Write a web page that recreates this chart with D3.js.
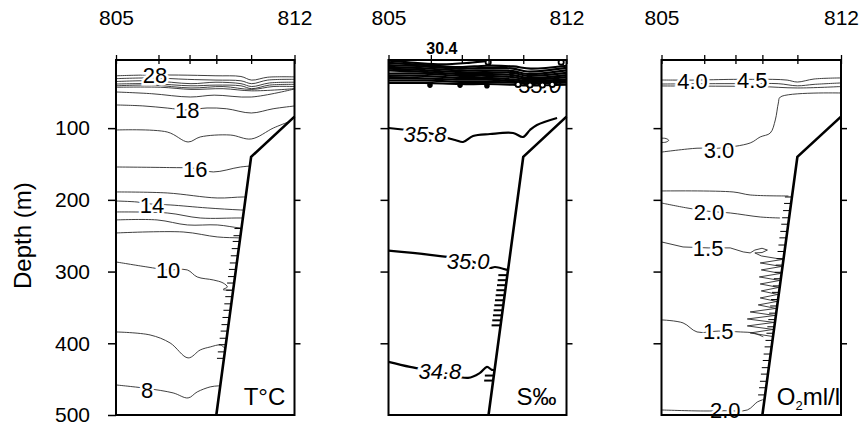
<!DOCTYPE html>
<html><head><meta charset="utf-8">
<script src="https://cdn.jsdelivr.net/npm/d3@7"></script>
<style>
body{margin:0;background:#fff}
svg{font-family:"Liberation Sans",Arial,Helvetica,sans-serif}
</style></head><body>
<svg id="c" width="865" height="432"></svg>
<script>
// ---------- DATA (distance along section 0-100, depth m) ----------
const stationDist = [0, 23.8, 41.2, 56.2, 75.7, 100];
const stationEndDist = [0, 100];
const stationEndLabels = ["805", "812"];
const depthTicks = [100, 200, 300, 400, 500];
const bathymetry = [[56.2, 500], [75.7, 140], [100, 84]];
const unitLabels = ["T°C", "S‰", "O2ml/l"];

// Temperature contours
const tempLines = [
  [[0,27],[16,26],[35,26],[56,27],[70,28],[76,33],[85,29],[100,28.5]],
  [[0,31],[20,30],[40,32],[56,33],[70,34],[76,38],[85,33],[100,32]],
  [[0,35],[20,34],[42,38],[56,36],[70,38],[76,42],[86,37],[100,36]],
  [[0,38.5],[20,38],[42,41],[56,40],[70,41],[76,45],[86,40],[100,39]],
  [[0,41],[20,40],[42,44],[60,42],[76,46],[88,42],[100,42]],
  [[0,43],[25,43],[42,46],[60,45],[76,48],[100,45]],
  [[0,49.6],[20,52],[41.6,56.6],[55,54],[75.8,56.6],[100,45.4]],
  [[0,67.7],[15,69],[28.7,72],[39.9,74.7],[51,71.9],[62,73],[75.8,78.9],[88,73],[100,69.1]],
  [[0,102.6],[28.7,105.4],[40.4,119.3],[47.2,112.3],[64,109.6],[75.8,115.1],[88.2,99.8],[96,92]],
  [[0,154.2],[30,155],[44,156],[54.5,161.1],[69.7,154.2],[80,152]],
  [[0,189],[28.7,190.4],[56.7,197.4],[71.3,196],[80,197]],
  [[0,201.6],[11.8,203],[20.2,206],[30.3,207.1],[51.1,211.3],[69.7,214.1],[80,215]],
  [[0,216.9],[28.7,218.3],[47.2,225.3],[69.7,225.3],[80,226]],
  [[0,228],[23,228],[40,235],[56.7,235],[69.7,239.2],[80,240]],
  [[0,246.2],[37.6,244.8],[56.7,251.7],[69.7,253.1],[80,254]],
  [[0,286.6],[17.4,293.6],[29,297.7],[39.9,297.7],[45.5,307.5],[54.5,311.7],[60,315.9],[62.4,321.5],[60,325],[64,326],[70,326]],
  [[0,384.2],[19.1,388.4],[30.3,399.5],[40.4,420.4],[47.2,409.3],[52.8,405.1],[58.4,402.3],[61,406],[66,404]],
  [[0,458.1],[17.4,463],[32,469.2],[40.4,476.2],[45.5,467.8],[52.8,460.8],[57.3,459.4],[62,459]]
];
const tempLabelText = ["28","18","16","14","10","8"];
const tempLabelPos = [[21.9,26],[39.9,74.7],[44.4,157],[20.2,207],[29.2,297.7],[17.4,465]];
const tempHatch = [240,250,258,268,278,288,297,307,316,326,335,345,354,364,374,383,393,402,412,421];

// Salinity contours
const salLines = [
  [[0,6],[15,9],[30,11],[45,9],[57,6]],
  [[0,9],[20,12],[40,15],[55,13],[70,14],[80,17],[100,13]],
  [[0,12],[20,14],[40,17],[55,16],[70,17],[78,21],[100,16]],
  [[0,14.5],[20,16.5],[40,19.5],[55,19.5],[70,20.5],[78,24.5],[100,19.5]],
  [[0,17],[20,19],[40,22],[55,22],[70,23],[78,27],[100,23]],
  [[0,19.5],[20,21.5],[40,24.5],[55,24.5],[70,26],[78,30],[100,26]],
  [[0,24],[20,24],[40,27],[55,27],[70,29],[78,32],[100,29]],
  [[0,27],[20,27],[40,30],[55,30],[70,32],[78,34],[100,32]],
  [[0,30],[20,30.5],[40,32.5],[55,32.5],[70,34.5],[78,35.5],[100,34.5]],
  [[0,33.5],[20,33.5],[40,35.5],[55,35.5],[70,36.5],[78,37.5],[100,36.5]],
  [[0,37],[20,37],[40,38.5],[55,38.5],[70,39.5],[78,40.5],[100,39.5]],
  [[0,99.8],[20.5,106],[37.4,116.5],[41.9,119.3],[47.5,110.9],[57,108.2],[70,106.8],[75.6,112.3],[79.5,102.6],[83.4,95.6],[94.7,85.9]],
  [[0,270.9],[23.3,276.8],[44.7,284],[57,295],[59.8,293.6],[66.6,297.7]],
  [[0,426],[12.1,433],[28.9,440],[44.7,448.3],[51.4,441.3],[55.3,433],[58.1,437],[60,437]]
];
const salLabelText = ["35.8","35.0","34.8"];
const salLabelPos = [[20.5,108],[44.7,285],[28.9,438.5]];
const salTopLabel = {text:"30.4", pos:[30,-12]};
const salHiddenLabel = {text:"35.0", pos:[85,40]};
const salDrops = [[23.3,40],[40.2,40],[55.3,41]];
const salLoops = [[72.8,39],[79.5,40],[86.5,40],[92,39],[56,8],[97,8]];
const salHatch = [305,312,319,326,333,340,347,354,361,368,375,445,452];

// Oxygen contours
const oxyLines = [
  [[0,32.9],[17,33],[40,32],[50.6,32],[62,32],[70,33],[75.7,35.7],[85,31.5],[100,30]],
  [[0,38.5],[30,38],[50,38],[65,38],[75.7,41],[85,39],[100,37]],
  [[0,41.2],[30,41.5],[55,42],[75.7,44],[100,42]],
  [[100,51],[66.2,56.6],[65.1,65],[63.4,88.6],[60.6,106.8],[55,112.3],[49.4,120.7],[31.6,128],[19.8,128],[0.3,133.3]],
  [[0,114],[2.5,114.5],[4,117],[2.5,119.5],[0,120]],
  [[0,187.6],[39.9,189],[49.4,193.2],[70.7,194.6]],
  [[0,204.4],[14.2,211.3],[26.5,216],[38.3,218.3],[55,223.9],[66,225.3]],
  [[0,367.4],[12,371.6],[19.8,384.2],[31.6,383],[43.9,384.2],[51.1,385.6],[56.7,391]],
  [[0,493],[23.2,494.4],[35.5,494],[47.8,493],[53.4,481.8],[56.1,479],[57,478]]
];
const oxyZigzag = [[0,258.7],[12,265.7],[26,267],[38.3,267],[45.5,272.6],[49.4,274],[52,270],[56,267.5],[59,270],[56,273.5],[52,274],[55.6,278.2],
  [67.5,283.1],[55,288],[66.9,292.9],[55.6,297.7],[66.4,302.6],[54.5,307.5],[65.9,312.4],[55,317.3],[65.3,322.1],[55.6,327],
  [64.8,331.9],[55,336.8],[64.3,341.7],[53.9,346.5],[63.7,351.4],[49.4,356.3],[63.2,361.2],[47.8,366.1],[62.7,370.9],
  [47.8,375.8],[62.2,380.7],[49.4,385.6],[61.6,390.4]];
const oxyLabelText = ["4.0","4.5","3.0","2.0","1.5","1.5","2.0"];
const oxyLabelPos = [[17.3,35],[50.6,33],[32,130],[26.5,217.6],[26,267.8],[31.6,382.8],[35.5,493.6]];
const oxyHatch = [196,205,215,225,234,244,253,263,272,282,291,301,310,320,329,339,348,358,367,377,386,396,405,415,424,434,443,453,462,472];

// ---------- DRAW ----------
const svg = d3.select("#c");
const y = d3.scaleLinear().domain([5, 500]).range([60, 415]);
const layout = [[116, 294.5], [388.5, 566.5], [661.5, 841]];
const slopeD = d3.scaleLinear().domain([bathymetry[0][1], bathymetry[1][1]]).range([bathymetry[0][0], bathymetry[1][0]]);

const panels = [
  {lines: tempLines, zig: null, labels: tempLabelText, pos: tempLabelPos, hatch: tempHatch, width: 0.9, color: "#2a2a2a", italic: false, hatchW: 1, hatchLen: 7},
  {lines: salLines, zig: null, labels: salLabelText, pos: salLabelPos, hatch: salHatch, width: 2.2, color: "#000", italic: true, hatchW: 2, hatchLen: 9},
  {lines: oxyLines, zig: oxyZigzag, labels: oxyLabelText, pos: oxyLabelPos, hatch: oxyHatch, width: 0.9, color: "#2a2a2a", italic: false, hatchW: 1, hatchLen: 7}
];

panels.forEach((p, i) => {
  const x = d3.scaleLinear().domain([0, 100]).range(layout[i]);
  const g = svg.append("g");
  const line = d3.line().x(d => x(d[0])).y(d => y(d[1])).curve(d3.curveCatmullRom.alpha(0.5));
  const lineLin = d3.line().x(d => x(d[0])).y(d => y(d[1]));

  const water = [[0, 5], [100, 5], ...bathymetry.slice().reverse(), [0, 500]];
  g.append("clipPath").attr("id", "clip" + i).append("path").attr("d", lineLin(water) + "Z");

  const cg = g.append("g").attr("clip-path", `url(#clip${i})`);

  if (i === 1) {
    cg.append("text").attr("x", x(salHiddenLabel.pos[0])).attr("y", y(salHiddenLabel.pos[1]))
      .attr("dy", "0.35em").attr("text-anchor", "middle").attr("font-size", 22).attr("font-style", "italic")
      .text(salHiddenLabel.text);
  }

  cg.selectAll("path.c").data(p.lines).join("path").attr("class", "c")
    .attr("d", line).attr("fill", "none").attr("stroke", p.color).attr("stroke-width", p.width);
  if (p.zig) {
    cg.append("path").attr("d", lineLin(p.zig)).attr("fill", "none").attr("stroke", p.color).attr("stroke-width", p.width);
  }
  if (i === 1) {
    cg.selectAll("circle.dr").data(salDrops).join("circle").attr("class", "dr")
      .attr("cx", d => x(d[0])).attr("cy", d => y(d[1])).attr("r", 2.8).attr("fill", "#000");
    cg.selectAll("circle.lp").data(salLoops).join("circle").attr("class", "lp")
      .attr("cx", d => x(d[0])).attr("cy", d => y(d[1])).attr("r", 2.6)
      .attr("fill", "#fff").attr("stroke", "#000").attr("stroke-width", 1.8);
  }

  // hatch marks along the slope
  g.selectAll("line.h").data(p.hatch).join("line").attr("class", "h")
    .attr("x1", d => x(slopeD(d))).attr("x2", d => x(slopeD(d)) - p.hatchLen)
    .attr("y1", d => y(d)).attr("y2", d => y(d))
    .attr("stroke", "#000").attr("stroke-width", p.hatchW);

  // contour labels
  g.selectAll("text.l").data(p.labels).join("text").attr("class", "l")
    .attr("x", (d, k) => x(p.pos[k][0])).attr("y", (d, k) => y(p.pos[k][1]))
    .attr("dy", "0.36em").attr("text-anchor", "middle").attr("font-size", 22)
    .attr("font-style", p.italic ? "italic" : "normal")
    .attr("stroke", "#fff").attr("stroke-width", 5).attr("paint-order", "stroke").attr("fill", "#000")
    .text(d => d);

  if (i === 1) {
    g.append("text").attr("x", x(salTopLabel.pos[0])).attr("y", y(salTopLabel.pos[1]))
      .attr("dy", "0.36em").attr("text-anchor", "middle").attr("font-size", 16).attr("font-weight", "bold")
      .text(salTopLabel.text);
  }

  // bathymetry
  g.append("path").attr("d", lineLin(bathymetry)).attr("fill", "none").attr("stroke", "#000").attr("stroke-width", 2.6);

  // frame
  g.append("rect").attr("x", x(0)).attr("y", y(5)).attr("width", x(100) - x(0)).attr("height", y(500) - y(5))
    .attr("fill", "none").attr("stroke", "#000").attr("stroke-width", 2);

  // unit label
  const ul = g.append("text").attr("x", i === 2 ? x(100) - 1 : x(100) - 30).attr("y", 405)
    .attr("text-anchor", i === 2 ? "end" : "middle").attr("font-size", 24);
  if (i === 2) {
    ul.append("tspan").text("O");
    ul.append("tspan").attr("font-size", 13).attr("dy", 5).text("2");
    ul.append("tspan").attr("dy", -5).text("ml/l");
  } else {
    ul.text(unitLabels[i]);
  }

  // station ticks
  const topTicks = g.append("g").attr("transform", `translate(0,${y(5) + 4})`)
    .call(d3.axisTop(x).tickValues(stationDist).tickSize(9).tickFormat(""));
  topTicks.select(".domain").remove();
  topTicks.selectAll("line").attr("stroke-width", 1.3);

  const topLab = g.append("g").attr("transform", `translate(0,${y(5)})`)
    .call(d3.axisTop(x).tickValues(stationEndDist).tickSize(0).tickPadding(35)
      .tickFormat((d, k) => stationEndLabels[k]));
  topLab.select(".domain").remove();
  topLab.selectAll("text").attr("font-size", 21).attr("font-family", "Liberation Sans, Arial, sans-serif");

  // depth ticks
  const la = g.append("g").attr("transform", `translate(${x(0)},0)`)
    .call(d3.axisLeft(y).tickValues(i === 0 ? depthTicks : depthTicks.slice(0, 4)).tickSize(8).tickPadding(18)
      .tickFormat(i === 0 ? d3.format("d") : ""));
  la.select(".domain").remove();
  la.selectAll("line").attr("stroke-width", 1.5);
  la.selectAll("text").attr("font-size", 21).attr("font-family", "Liberation Sans, Arial, sans-serif");

  const ra = g.append("g").attr("transform", `translate(${x(100)},0)`)
    .call(d3.axisRight(y).tickValues(depthTicks.slice(0, 4)).tickSize(6).tickFormat(""));
  ra.select(".domain").remove();
  ra.selectAll("line").attr("stroke-width", 1.5);
});

svg.append("text").attr("transform", `translate(23,${y(250)}) rotate(-90)`)
  .attr("text-anchor", "middle").attr("dy", "0.35em").attr("font-size", 24).text("Depth (m)");
</script>
</body></html>
